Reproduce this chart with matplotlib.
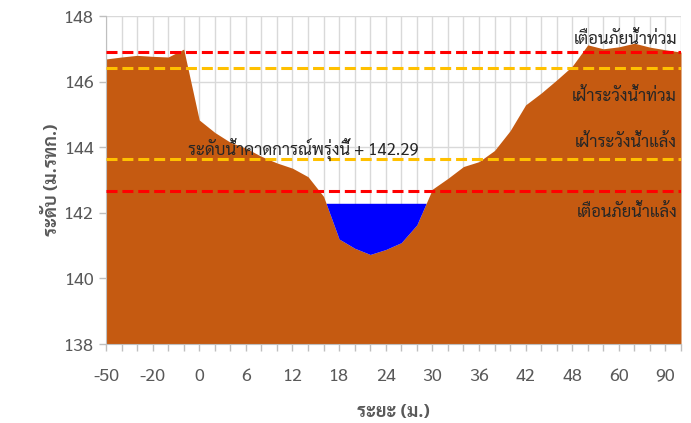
import matplotlib
matplotlib.use('Agg')
import matplotlib.pyplot as plt

plt.rcParams['font.family'] = ['Sarabun', 'DejaVu Sans']

# ระยะ (ม.) - category axis
distance = [-50, -40, -30, -20, -10, -5, 0, 2, 4, 6, 8, 10, 12, 14, 16, 18, 20, 22, 24,
            26, 28, 30, 32, 34, 36, 38, 40, 42, 44, 46, 48, 50, 55, 60, 70, 80, 90, 100]
ground = [146.69, 146.75, 146.80, 146.77, 146.75, 146.99, 144.83, 144.45, 144.15, 143.97,
          143.72, 143.52, 143.36, 143.10, 142.50, 141.20, 140.92, 140.73, 140.88, 141.09,
          141.63, 142.72, 143.05, 143.41, 143.56, 143.90, 144.50, 145.29, 145.65, 146.05,
          146.47, 147.12, 147.00, 147.06, 147.17, 147.05, 146.97, 146.90]
water_level = 142.29
flood_warning = 146.90
flood_watch = 146.40
drought_watch = 143.65
drought_warning = 142.65

x = list(range(len(distance)))
grey = '#595959'
txt = '#262626'

fig = plt.figure(figsize=(6.91, 4.23), dpi=100)
ax = fig.add_axes([106 / 691, 1 - 344 / 423, 575 / 691, 328 / 423])

ax.fill_between(x, 138, ground, color='#C55A11', lw=0, zorder=2)
ax.fill_between(x, ground, water_level, where=[g < water_level for g in ground],
                interpolate=True, color='#0000FF', lw=0, zorder=2)

for lvl, col in [(flood_warning, '#FF0000'), (flood_watch, '#FFC000'),
                 (drought_watch, '#FFC000'), (drought_warning, '#FF0000')]:
    ax.axhline(lvl, color=col, lw=2.2, dashes=(3.6, 1.6), zorder=3)

ax.text(36.75, 147.27, 'เตือนภัยน้ำท่วม', ha='right', va='center', fontsize=12, color=txt, zorder=4)
ax.text(36.75, 145.56, 'เฝ้าระวังน้ำท่วม', ha='right', va='center', fontsize=12, color=txt, zorder=4)
ax.text(36.75, 144.13, 'เฝ้าระวังน้ำแล้ง', ha='right', va='center', fontsize=12, color=txt, zorder=4)
ax.text(36.75, 142.02, 'เตือนภัยน้ำแล้ง', ha='right', va='center', fontsize=12, color=txt, zorder=4)
ax.text(12.7, 143.91, 'ระดับน้ำคาดการณ์พรุ่งนี้ + %.2f' % water_level, ha='center', va='center',
        fontsize=12, color=txt, zorder=4)

ax.set_xlim(0, len(distance) - 1)
ax.set_ylim(138, 148)
ax.set_yticks([138, 140, 142, 144, 146, 148])
ax.set_xticks(x)
ax.set_xticklabels([str(d) if i % 3 == 0 else '' for i, d in enumerate(distance)])
ax.grid(True, color='#D9D9D9', lw=1, zorder=1)
ax.set_axisbelow(True)
ax.tick_params(colors='#BFBFBF', labelcolor=grey, labelsize=13, length=5, width=1)
ax.tick_params(axis='x', pad=12)
for s in ['top', 'right']:
    ax.spines[s].set_visible(False)
for s in ['left', 'bottom']:
    ax.spines[s].set_color('#BFBFBF')

ax.set_xlabel('ระยะ (ม.)', fontsize=13, fontweight='bold', color=grey, labelpad=14)
ax.set_ylabel('ระดับ (ม.รทก.)', fontsize=13, fontweight='bold', color=grey, labelpad=2)

fig.savefig('out.png')
